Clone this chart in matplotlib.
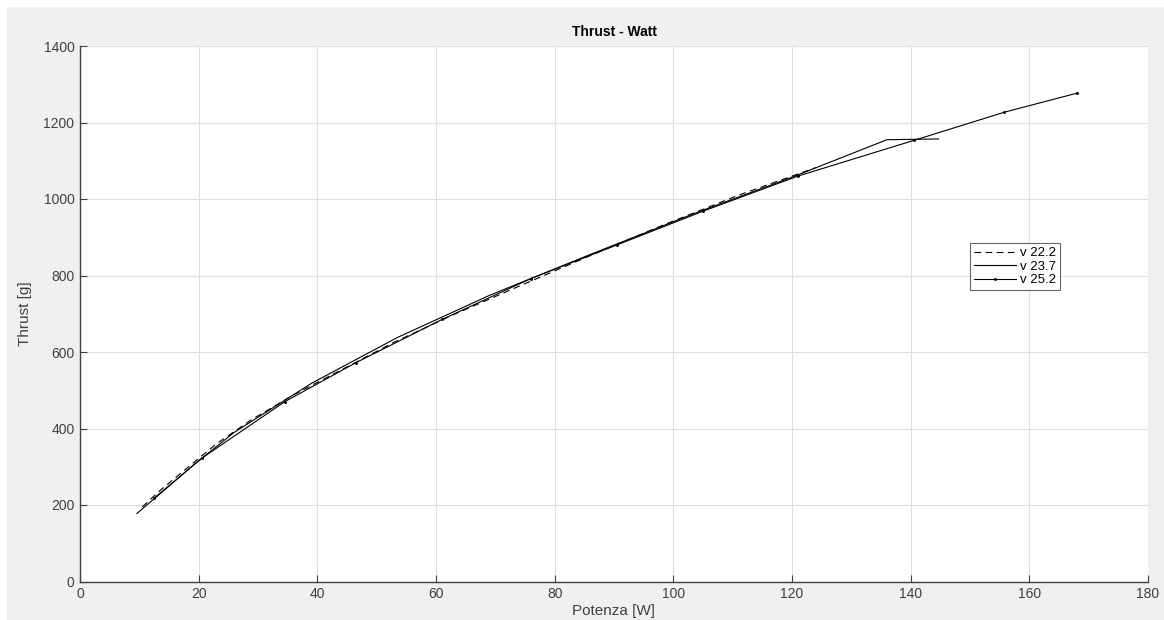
import matplotlib
matplotlib.use('Agg')
import matplotlib.pyplot as plt
from matplotlib.patches import Rectangle

plt.rcParams['font.family'] = ['Liberation Sans', 'DejaVu Sans']

# v 22.2 (dashed)
x_222 = [10.5, 13.5, 18, 23, 29, 36, 44, 53, 63, 74, 86, 98, 111, 124]
y_222 = [195, 238, 296, 360, 424, 488, 553, 626, 698, 772, 852, 930, 1010, 1082]

# v 23.7 (solid)
x_237 = [9.6, 14, 19, 26, 39, 53.5, 69, 86, 104, 120, 136, 144.7]
y_237 = [178, 236, 303, 390, 518, 638, 748, 855, 965, 1057, 1155, 1157]

# v 25.2 (solid with dots)
x_252 = [12.5, 20.5, 34.5, 46.5, 61, 76, 90.5, 105, 121, 140.5, 155.8, 168.1]
y_252 = [218, 322, 470, 572, 685, 792, 880, 968, 1060, 1153, 1227, 1277]

labels = ['v 22.2', 'v 23.7', 'v 25.2']

fig = plt.figure(figsize=(11.64, 6.2), dpi=100, facecolor='white')
fig.patches.append(Rectangle((7/1164, 0), 1, 1 - 7/620, transform=fig.transFigure,
                             facecolor='#f0f0f0', edgecolor='none', zorder=-10))

ax = fig.add_axes([80/1164, 1 - 581.5/620, (1148 - 80)/1164, (581.5 - 46)/620])
ax.set_facecolor('white')

ax.plot(x_222, y_222, color='black', ls=(0, (6, 4)), lw=0.8, label=labels[0])
ax.plot(x_237, y_237, color='black', ls='-', lw=0.8, label=labels[1])
ax.plot(x_252, y_252, color='black', ls='-', lw=0.8, marker='.', markersize=2.2, label=labels[2])

ax.set_xlim(0, 180)
ax.set_ylim(0, 1400)
ax.set_xticks(range(0, 181, 20))
ax.set_yticks(range(0, 1401, 200))
ax.grid(True, color='#dedede', lw=0.8)
ax.set_axisbelow(True)

for s in ['top', 'right']:
    ax.spines[s].set_visible(False)
for s in ['left', 'bottom']:
    ax.spines[s].set_color('#404040')
    ax.spines[s].set_linewidth(1.0)
ax.tick_params(direction='in', length=5, width=0.8, colors='#404040',
               labelsize=10, labelcolor='#404040', pad=4)

ax.set_title('Thrust - Watt', fontsize=10, fontweight='bold', pad=7, color='black')
ax.set_xlabel('Potenza [W]', fontsize=11, color='#404040', labelpad=2)
ax.set_ylabel('Thrust [g]', fontsize=11, color='#404040', labelpad=8)

leg = ax.legend(loc='upper left', bbox_to_anchor=(0.833, 0.632), fontsize=9.5,
                handlelength=3.2, frameon=True, fancybox=False, borderpad=0.3,
                labelspacing=0.1, handletextpad=0.3, borderaxespad=0)
leg.get_frame().set_edgecolor('#404040')
leg.get_frame().set_linewidth(0.8)

fig.savefig('out.png', dpi=100)
